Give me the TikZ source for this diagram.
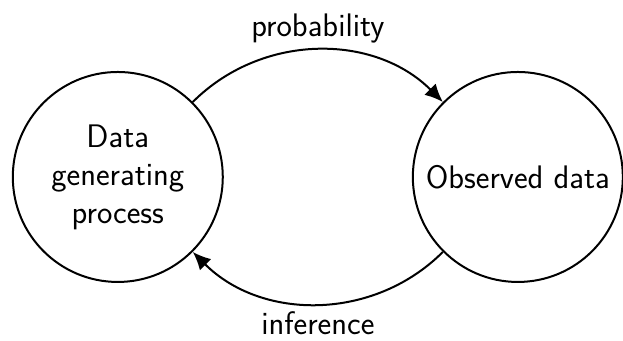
\documentclass[tikz,border=0pt]{standalone}
\usetikzlibrary{arrows.meta}

\begin{document}
\begin{tikzpicture}[
    every node/.style={font=\sffamily\fontsize{16.3pt}{19pt}\selectfont},
    state/.style={circle, draw, line width=1pt, minimum size=3.69cm, align=center, inner sep=0pt},
    flow/.style={line width=1pt, -{Latex[length=9pt,width=8pt]}}
]
    \useasboundingbox (0,0) rectangle (10.948,5.975);

    % The two states
    \node[state] (dgp) at (2.07,2.865) {Data\\generating\\process};
    \node[state] (obs) at (9.10,2.865) {Observed data};

    % Arcs between them
    \draw[flow] (dgp.45) to[out=45, in=135] node[above, name=prob] {probability} (obs.135);
    \draw[flow] (obs.225) to[out=-135, in=-45] node[below, name=infer] {inference} (dgp.-45);

\end{tikzpicture}
\end{document}
